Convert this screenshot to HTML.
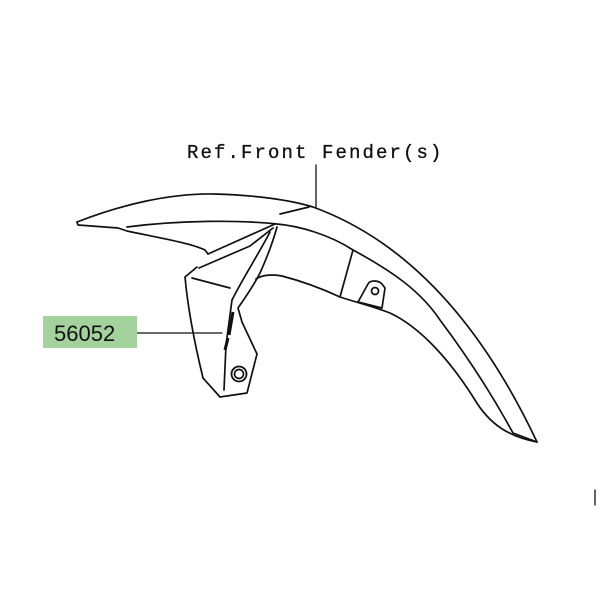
<!DOCTYPE html>
<html><head><style>
html,body{margin:0;padding:0;background:#fff;width:600px;height:600px;overflow:hidden}
</style></head><body>
<svg width="600" height="600" viewBox="0 0 600 600" xmlns="http://www.w3.org/2000/svg">
<g fill="none" stroke="#111" stroke-width="1.7" stroke-linejoin="round" stroke-linecap="round">
<!-- fender top outer -->
<path d="M77,222 C120,205 170,193 215,194 C255,195 290,200 313,207 C390,235 470,300 537,442"/>
<!-- fender tip underside -->
<path d="M77,222 L78,225 L118,228 L127,231 C160,238 190,243 205,250 L208,254"/>
<!-- inner line top -->
<path d="M127,227 C180,220 240,220 277,224 C300,226 330,235 353,250 C390,270 420,290 440,320 C470,360 495,400 513,433 L537,442"/>
<path d="M280,214 L309,207"/>
<!-- lower edge -->
<path d="M256,279 C262,275 272,274 282,276 C305,282 325,290 340,297 C355,302 372,306 390,313 C420,327 450,360 475,400 C490,425 510,437 537,442"/>
<!-- side panel -->
<path d="M353,250 L340,297"/>
<!-- bracket -->
<path d="M277,227 C272,245 265,262 260,273 C254,285 245,298 238,308 L242,322 L257,354 L247,393 L220,397 L203,378 C195,345 188,310 185,277 L197,267"/>
<path d="M208,254 L275,224"/>
<path d="M273,228 L250,246 L199,268"/>
<path d="M270,232 C258,255 243,278 232,300 L226,345 L224,390"/>
<path d="M192,278 L230,288"/>
<circle cx="239" cy="374" r="7.5" stroke-width="1.8"/>
<circle cx="239" cy="374" r="4.5"/>
<!-- tab -->
<path d="M358,302 L368,284 C370,280 378,280 382,284 L385,288 L382,308 Z"/>
<circle cx="375" cy="291" r="3.5"/>
<!-- leader lines -->
<path d="M316,165 L316,207" stroke-width="1.3"/>
<path d="M137,333 L222,333" stroke-width="1.3"/>
<path d="M595,490 L595,505" stroke-width="1.3"/>
</g>
<!-- decal -->
<g stroke="#111" stroke-width="3" fill="none">
<path d="M233,312 L229,335"/>
<path d="M228,338 L225,350"/>
</g>
<rect x="43" y="316" width="94" height="32" fill="#a3d29d"/>
<text x="54" y="341" font-family="Liberation Sans, sans-serif" font-size="22" fill="#111">56052</text>
<text x="187" y="158" font-family="Liberation Mono, monospace" font-size="19" letter-spacing="2.1" fill="#111" stroke="#111" stroke-width="0.3">Ref.Front Fender(s)</text>
</svg>
</body></html>
